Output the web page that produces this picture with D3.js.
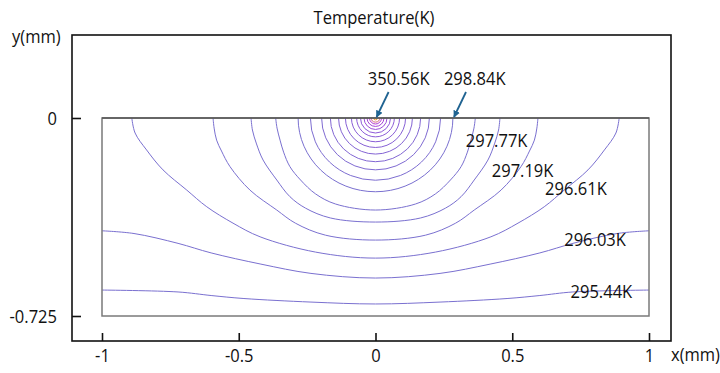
<!DOCTYPE html>
<html>
<head>
<meta charset="utf-8">
<script src="https://cdn.jsdelivr.net/npm/d3@7"></script>
<style>
  body { margin: 0; background: #fff; }
  text { font-family: "Open Sans", "Noto Sans", sans-serif; font-size: 19px; fill: #111; }
</style>
</head>
<body>
<svg id="chart" width="720" height="373"></svg>
<script>
// ---- data (mm / K) ----
const xTicks = [-1, -0.5, 0, 0.5, 1];
const yTicks = [0, -0.725];
const xDomain = [-1, 1];
const yDomain = [-0.725, 0];

// Closed isotherms around the heat source: surface half-width and depth (mm)
const ringHalfWidths = [0.007, 0.015, 0.022, 0.031, 0.042, 0.055, 0.069, 0.088, 0.110, 0.135, 0.165, 0.197, 0.238, 0.283];
const ringDepths     = [0.007, 0.015, 0.022, 0.031, 0.042, 0.055, 0.069, 0.087, 0.108, 0.132, 0.160, 0.190, 0.228, 0.270];

// Wider isotherms, right half (x >= 0); the field is symmetric about x = 0
const iso1 = [[0, -0.337], [0.146, -0.315], [0.219, -0.278], [0.274, -0.227], [0.313, -0.178], [0.336, -0.125], [0.349, -0.081], [0.360, -0.037], [0.365, 0]];
const iso2 = [[0, -0.381], [0.165, -0.366], [0.256, -0.330], [0.313, -0.288], [0.361, -0.227], [0.411, -0.154], [0.435, -0.095], [0.450, -0.044], [0.455, 0]];
const iso3 = [[0, -0.447], [0.183, -0.429], [0.293, -0.385], [0.361, -0.337], [0.459, -0.264], [0.532, -0.178], [0.563, -0.121], [0.581, -0.081], [0.590, -0.037], [0.594, 0]];
const iso4 = [[0, -0.513], [0.219, -0.491], [0.422, -0.435], [0.521, -0.385], [0.617, -0.325], [0.690, -0.264], [0.777, -0.190], [0.837, -0.117], [0.879, -0.055], [0.891, 0]];
const iso5 = [[0, -0.586], [0.236, -0.569], [0.419, -0.535], [0.601, -0.494], [0.722, -0.459], [0.883, -0.423], [1.0, -0.413]];
const iso6 = [[0, -0.681], [0.236, -0.674], [0.481, -0.661], [0.601, -0.650], [0.722, -0.637], [1.0, -0.630]];
const wideIsotherms = [iso1, iso2, iso3, iso4, iso5, iso6];

// Annotated temperatures: [label, x, y] (mm) for text inside the domain
const isoLabels = [
  ["297.77K", 0.330, -0.106],
  ["297.19K", 0.425, -0.215],
  ["296.61K", 0.620, -0.282],
  ["296.03K", 0.690, -0.470],
  ["295.44K", 0.713, -0.658]
];
// Arrowed labels above the surface: [label, textX, tipX] (mm)
const peakLabels = [
  ["350.56K", -0.028, 0.004],
  ["298.84K", 0.250, 0.287]
];
const titleText = "Temperature(K)";
const xLabel = "x(mm)";
const yLabel = "y(mm)";

// ---- layout ----
const svg = d3.select("#chart");
const frame = { left: 72, top: 35, right: 671, bottom: 341 };
const x = d3.scaleLinear().domain(xDomain).range([102, 649]);
const y = d3.scaleLinear().domain(yDomain).range([316, 118]);
const SQ = 0.87; // horizontal squeeze of the typeface

function squeeze(sel) {
  sel.each(function () {
    const t = d3.select(this);
    const tx = +t.attr("x") || 0, ty = +t.attr("y") || 0;
    t.attr("x", 0).attr("y", 0).attr("transform", `translate(${tx},${ty}) scale(${SQ},1)`);
  });
}

const defs = svg.append("defs");
defs.append("clipPath").attr("id", "domainClip")
  .append("rect")
  .attr("x", x(-1)).attr("y", y(0))
  .attr("width", x(1) - x(-1)).attr("height", y(-0.725) - y(0));
defs.append("marker").attr("id", "head")
  .attr("viewBox", "0 0 10 10").attr("refX", 9).attr("refY", 5)
  .attr("markerWidth", 7).attr("markerHeight", 7)
  .attr("markerUnits", "userSpaceOnUse").attr("orient", "auto")
  .append("path").attr("d", "M0,0 L10,5 L0,10 Z").attr("fill", "#1f6391");

// outer frame
svg.append("rect")
  .attr("x", frame.left).attr("y", frame.top)
  .attr("width", frame.right - frame.left).attr("height", frame.bottom - frame.top)
  .attr("fill", "none").attr("stroke", "#111").attr("stroke-width", 1.6);

// axes: ticks pointing inwards from the frame
const yAxis = d3.axisLeft(y).tickValues(yTicks).tickSizeInner(-9).tickSizeOuter(0).tickPadding(15)
  .tickFormat(d => d === 0 ? "0" : String(d));
const gy = svg.append("g").attr("transform", `translate(${frame.left},0)`).call(yAxis);
const xAxis = d3.axisBottom(x).tickValues(xTicks).tickSizeInner(-8).tickSizeOuter(0).tickPadding(7)
  .tickFormat(d => String(d));
const gx = svg.append("g").attr("transform", `translate(0,${frame.bottom})`).call(xAxis);
[gx, gy].forEach(g => {
  g.select(".domain").remove();
  g.selectAll(".tick line").attr("stroke", "#111").attr("stroke-width", 1.6);
  g.selectAll(".tick text").attr("font-size", null).attr("font-family", null).attr("fill", "#111");
});
gy.selectAll(".tick text").call(squeeze);
gx.selectAll(".tick text").attr("dy", "0.71em").call(squeeze);

// isotherms
const plot = svg.append("g").attr("clip-path", "url(#domainClip)");
const nRings = ringHalfWidths.length;
const ringColor = d3.scaleLinear()
  .domain([0, 2, 5, nRings - 1])
  .range(["#f39a2c", "#b23ad6", "#8e58d8", "#7a70d0"]);

// half-ellipse rings below the surface
plot.selectAll("path.ring")
  .data(d3.range(nRings))
  .join("path")
  .attr("class", "ring")
  .attr("d", i => {
    const rx = x(ringHalfWidths[i]) - x(0);
    const ry = y(-ringDepths[i]) - y(0);
    return `M${x(-ringHalfWidths[i])},${y(0)} A${rx},${ry} 0 0 0 ${x(ringHalfWidths[i])},${y(0)}`;
  })
  .attr("fill", "none")
  .attr("stroke", i => ringColor(i))
  .attr("stroke-width", 1);

const line = d3.line().x(d => x(d[0])).y(d => y(d[1])).curve(d3.curveCatmullRom.alpha(0.5));
wideIsotherms.forEach(pts => {
  const full = pts.slice().reverse().map(p => [-p[0], p[1]]).concat(pts.slice(1));
  plot.append("path")
    .attr("d", line(full))
    .attr("fill", "none")
    .attr("stroke", "#7a70d0")
    .attr("stroke-width", 1);
});

// domain outline
svg.append("rect")
  .attr("x", x(-1)).attr("y", y(0))
  .attr("width", x(1) - x(-1)).attr("height", y(-0.725) - y(0))
  .attr("fill", "none").attr("stroke", "#7a7a7a").attr("stroke-width", 1.5);
svg.append("line")
  .attr("x1", x(-1)).attr("x2", x(1)).attr("y1", y(0)).attr("y2", y(0))
  .attr("stroke", "#555").attr("stroke-width", 1.5);

// isotherm labels
svg.selectAll("text.iso")
  .data(isoLabels)
  .join("text")
  .attr("class", "iso")
  .attr("x", d => x(d[1])).attr("y", d => y(d[2]))
  .text(d => d[0])
  .call(squeeze);

// arrowed labels
const labelY = 85, arrowStartY = 92;
peakLabels.forEach(([label, tx, tip]) => {
  svg.append("text").attr("x", x(tx)).attr("y", labelY).text(label).call(squeeze);
  svg.append("line")
    .attr("x1", x(tip) + 12).attr("y1", arrowStartY)
    .attr("x2", x(tip)).attr("y2", y(0) - 1)
    .attr("stroke", "#1f6391").attr("stroke-width", 1.8)
    .attr("marker-end", "url(#head)");
});

// title and axis names
svg.append("text").attr("x", 374).attr("y", 24).attr("text-anchor", "middle").text(titleText).call(squeeze);
svg.append("text").attr("x", 12).attr("y", 43).text(yLabel).call(squeeze);
svg.append("text").attr("x", 671).attr("y", 361).text(xLabel).call(squeeze);
</script>
</body>
</html>
